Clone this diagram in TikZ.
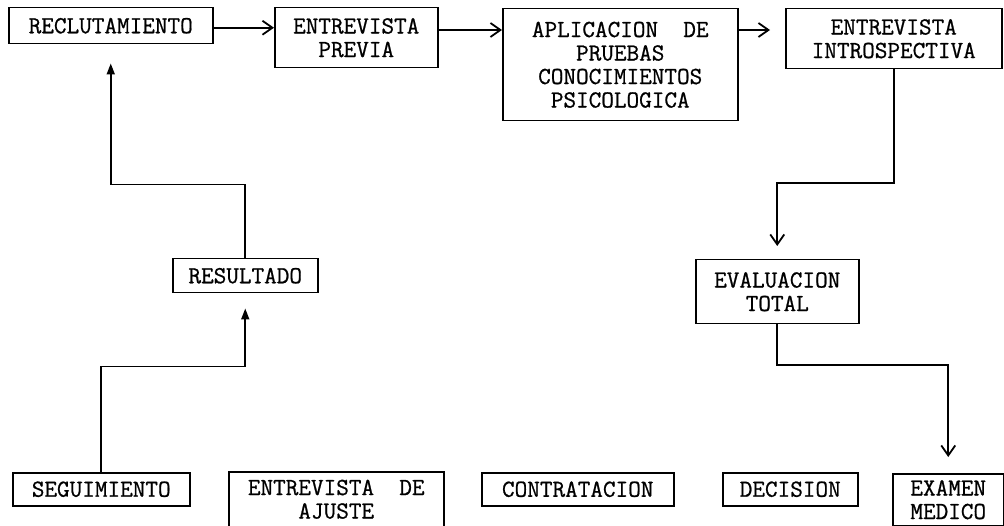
\documentclass[tikz,border=0pt]{standalone}
\usepackage{fontspec}
\setmonofont[FakeBold=0.8]{Latin Modern Mono}
\usetikzlibrary{arrows.meta}

\begin{document}
\begin{tikzpicture}[x=1pt,y=-1pt,
    every node/.style={draw,line width=1.5pt,anchor=north west,inner sep=0pt,align=center,
      font=\ttfamily\fontsize{24.5}{23.5}\selectfont},
    flow/.style={line width=1.8pt,-{Straight Barb[length=10pt,width=14pt,line width=1.8pt]}},
    flowup/.style={line width=1.8pt,-{Triangle[length=11pt,width=8pt]}}]
  \useasboundingbox (0,0) rectangle (1004,526);
  \draw
    (8,7) node[minimum width=204pt,minimum height=36pt] (recl) {RECLUTAMIENTO}
    (274,7) node[minimum width=163pt,minimum height=60pt] (prev) {ENTREVISTA\\PREVIA}
    (502,8) node[minimum width=235pt,minimum height=112pt] (pru) {APLICACION\ \ DE\\PRUEBAS\\CONOCIMIENTOS\\PSICOLOGICA}
    (785,8) node[minimum width=216pt,minimum height=60pt] (intro) {ENTREVISTA\\INTROSPECTIVA};
  \draw
    (172,258) node[minimum width=145pt,minimum height=34pt] (res) {RESULTADO}
    (695,259) node[minimum width=163pt,minimum height=64pt] (eval) {EVALUACION\\TOTAL};
  \draw
    (12,472) node[minimum width=177pt,minimum height=33pt] (seg) {SEGUIMIENTO}
    (228,471) node[minimum width=215pt,minimum height=55pt] (ajus) {ENTREVISTA\ \ DE\\AJUSTE}
    (481,472) node[minimum width=192pt,minimum height=33pt] (contr) {CONTRATACION}
    (722,472) node[minimum width=135pt,minimum height=33pt] (deci) {DECISION}
    (892,473) node[minimum width=111pt,minimum height=52pt] (exam) {EXAMEN\\MEDICO};
  \draw[flow] ([yshift=-2pt]recl.east) -- ([yshift=-2pt]recl.east -| prev.west);
  \draw[flow] ([yshift=-23pt]prev.north east) -- ([yshift=-23pt]prev.north east -| pru.west);
  \draw[flow,shorten >=15pt] ([yshift=-22pt]pru.north east) -- ([yshift=-22pt]pru.north east -| intro.west);
  \draw[flow] (intro.south) |- ([yshift=76pt]eval.north) -- ([yshift=13pt]eval.north);
  \draw[flow] (eval.south) |- ([yshift=108pt]exam.north) -- ([yshift=16pt]exam.north);
  \draw[flowup] (seg.north) |- ([yshift=-73pt]res.south) -- ([yshift=-15pt]res.south);
  \draw[flowup] (res.north) |- ([yshift=-140pt]recl.south) -- ([yshift=-19pt]recl.south);
\end{tikzpicture}
\end{document}
